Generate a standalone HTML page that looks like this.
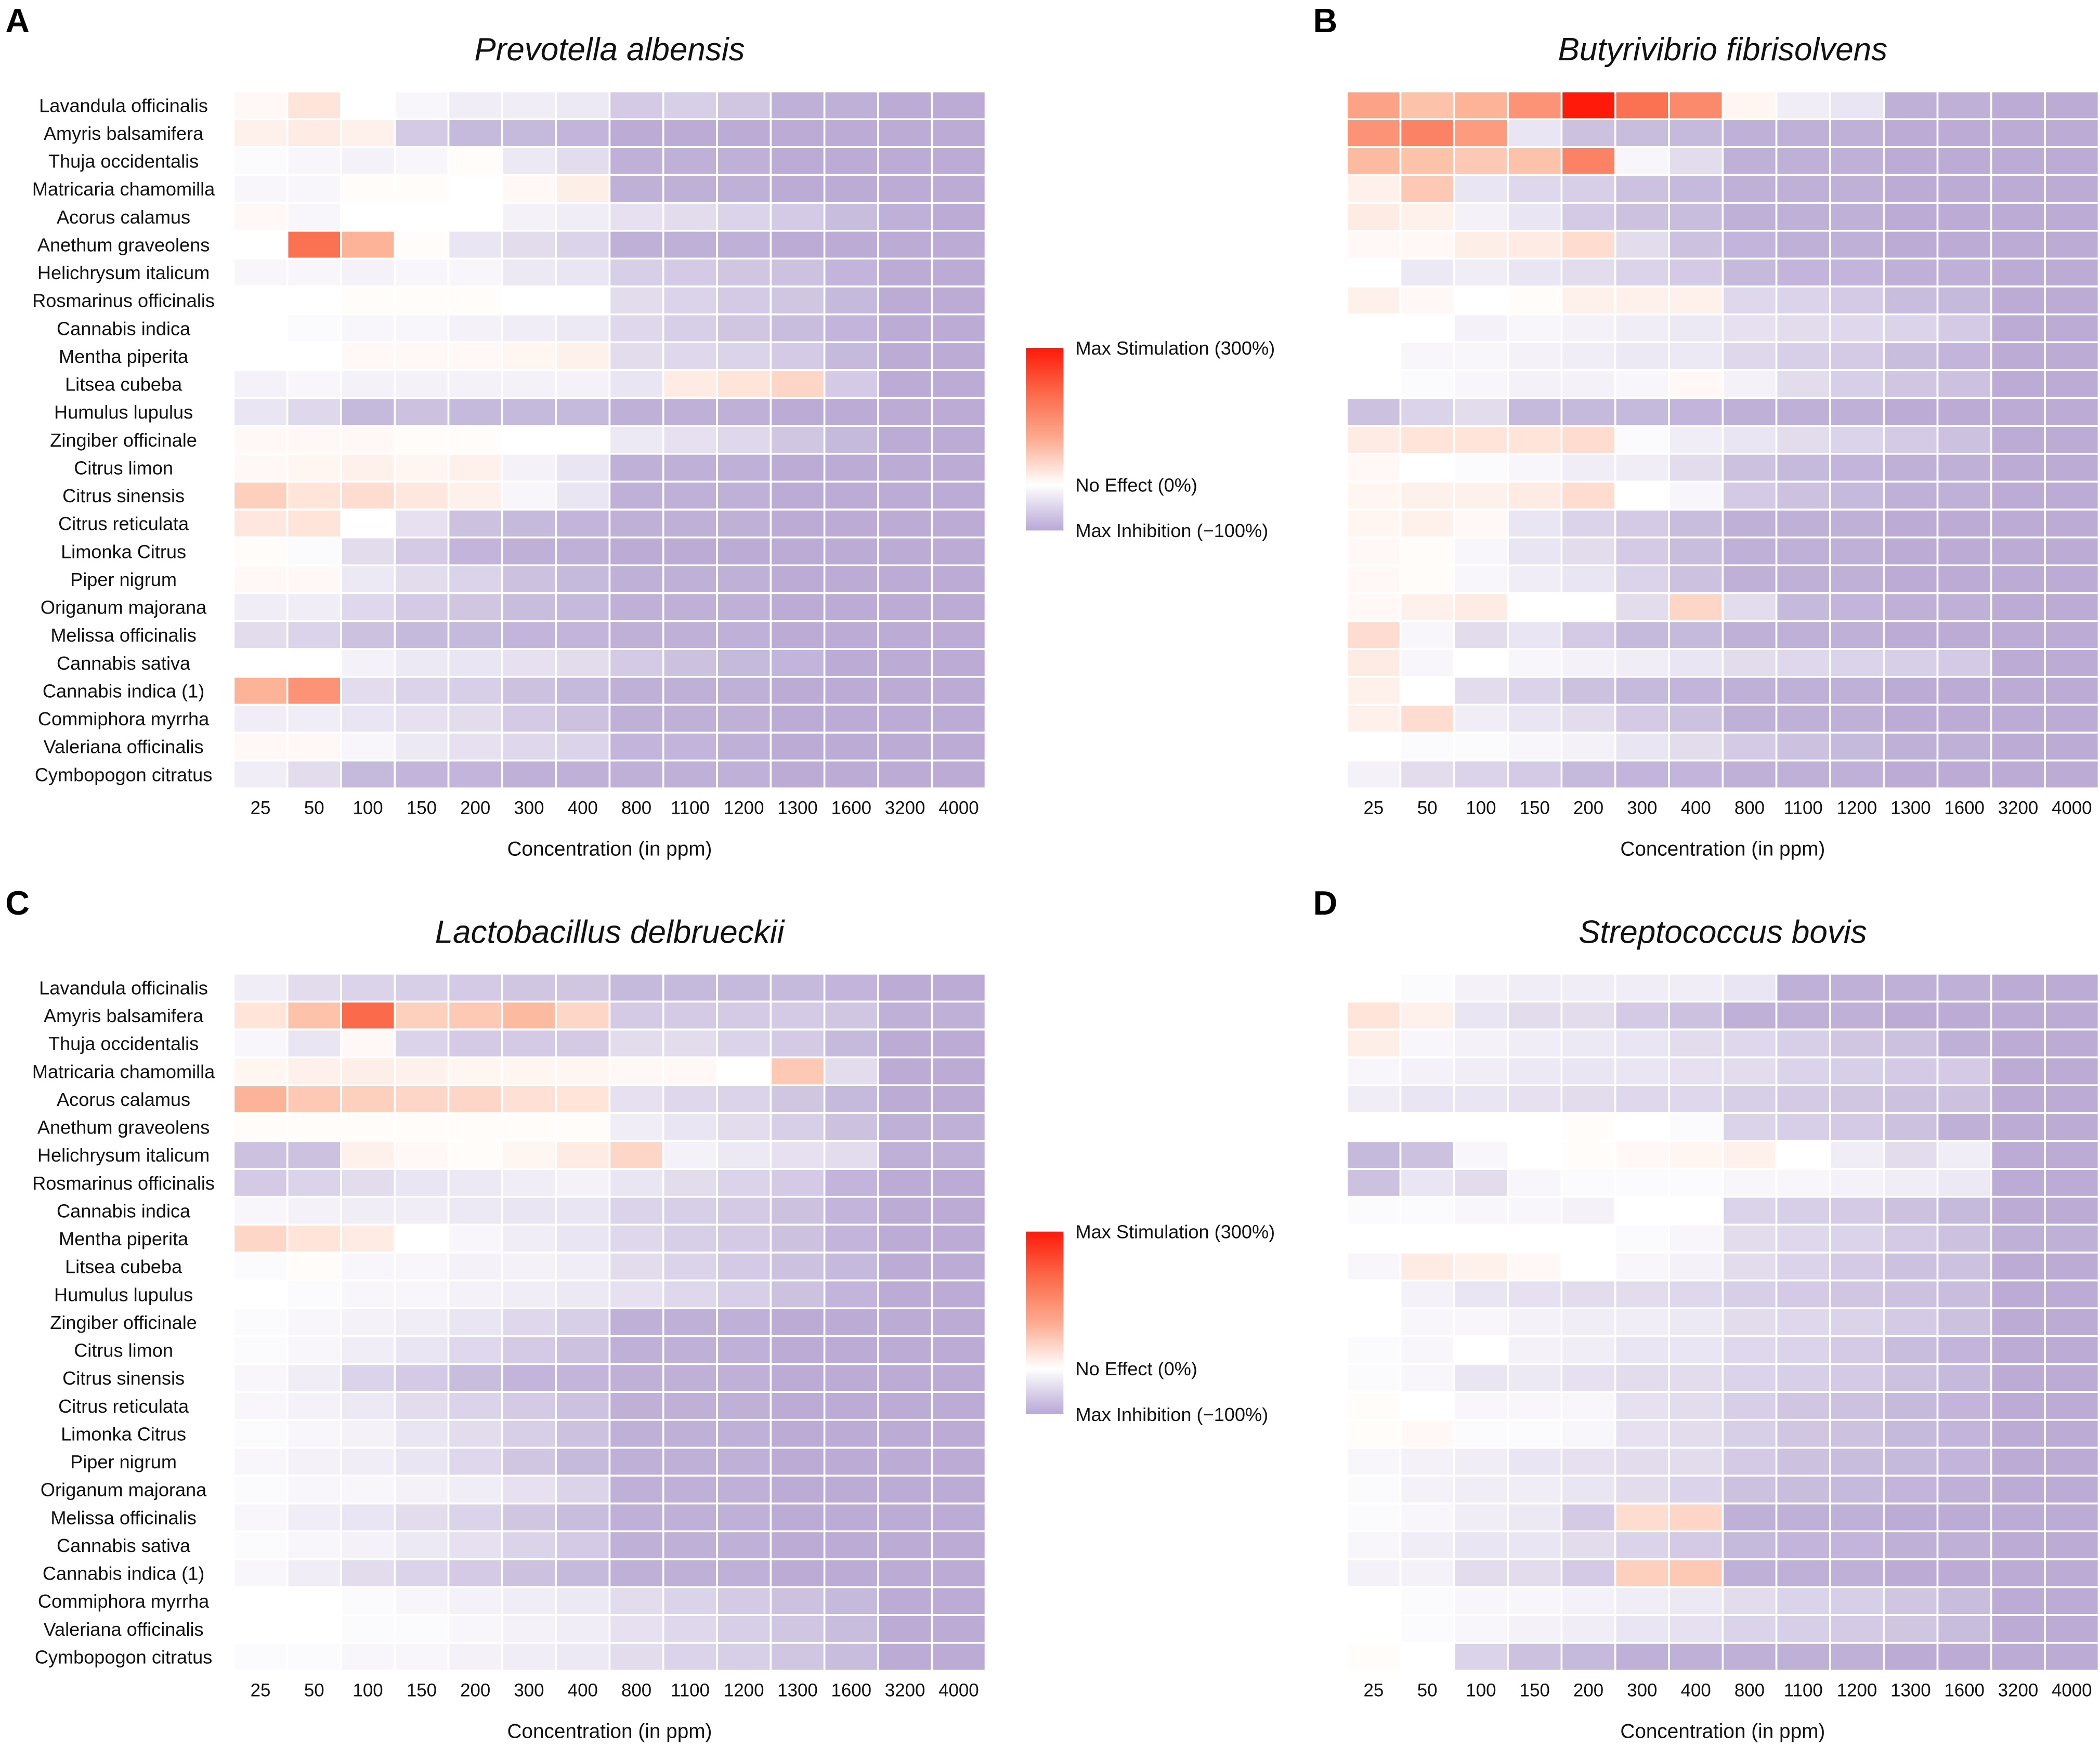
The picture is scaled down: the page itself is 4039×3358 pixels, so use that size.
<!DOCTYPE html>
<html><head><meta charset="utf-8">
<style>
html,body{margin:0;padding:0;background:#fff;}
svg{display:block;font-family:"Liberation Sans",Arial,sans-serif;}
</style></head>
<body>
<svg id="fig" width="4039" height="3358" viewBox="0 0 1564 1300" preserveAspectRatio="none" xmlns="http://www.w3.org/2000/svg">
<defs>
<linearGradient id="lg" x1="0" y1="0" x2="0" y2="1">
<stop offset="0" stop-color="#ff1a0a"/>
<stop offset="0.25" stop-color="#fb6a4a"/>
<stop offset="0.5" stop-color="#fcab91"/>
<stop offset="0.75" stop-color="#ffffff"/>
<stop offset="1" stop-color="#b8a8d6"/>
</linearGradient>
</defs>
</svg>
<script>
const concentrations = ["25","50","100","150","200","300","400","800","1100","1200","1300","1600","3200","4000"];
const oils = ["Lavandula officinalis","Amyris balsamifera","Thuja occidentalis","Matricaria chamomilla","Acorus calamus","Anethum graveolens","Helichrysum italicum","Rosmarinus officinalis","Cannabis indica","Mentha piperita","Litsea cubeba","Humulus lupulus","Zingiber officinale","Citrus limon","Citrus sinensis","Citrus reticulata","Limonka Citrus","Piper nigrum","Origanum majorana","Melissa officinalis","Cannabis sativa","Cannabis indica (1)","Commiphora myrrha","Valeriana officinalis","Cymbopogon citratus"];
const valuesA = [
[10,40,0,-10,-20,-20,-25,-60,-55,-65,-90,-90,-95,-95],
[20,30,20,-60,-80,-80,-85,-95,-95,-95,-95,-95,-95,-95],
[-5,-10,-15,-10,5,-25,-40,-90,-90,-90,-95,-95,-95,-95],
[-10,-10,5,5,0,10,25,-90,-90,-90,-95,-95,-95,-95],
[10,-10,0,0,0,-15,-20,-35,-40,-50,-60,-75,-90,-95],
[0,190,110,5,-30,-40,-50,-90,-90,-90,-95,-95,-95,-95],
[-10,-10,-15,-10,-10,-25,-30,-55,-60,-65,-70,-85,-95,-95],
[0,0,5,5,5,0,0,-40,-50,-60,-65,-80,-95,-95],
[0,-5,-10,-10,-15,-20,-25,-45,-55,-65,-75,-85,-95,-95],
[0,0,10,10,10,15,20,-40,-45,-50,-60,-80,-95,-95],
[-15,-10,-15,-15,-15,-15,-15,-30,30,40,60,-60,-95,-95],
[-30,-45,-80,-70,-80,-80,-80,-90,-90,-90,-95,-95,-95,-95],
[10,10,10,5,5,0,0,-25,-35,-45,-65,-80,-95,-95],
[10,15,20,15,20,-15,-30,-90,-90,-90,-95,-95,-95,-95],
[70,40,50,35,20,-10,-30,-90,-90,-90,-95,-95,-95,-95],
[35,40,0,-35,-70,-80,-85,-90,-90,-90,-95,-95,-95,-95],
[5,-5,-40,-60,-85,-90,-90,-95,-95,-95,-95,-95,-95,-95],
[10,10,-25,-40,-50,-70,-80,-90,-90,-90,-95,-95,-95,-95],
[-20,-20,-45,-60,-65,-75,-80,-90,-90,-90,-95,-95,-95,-95],
[-40,-50,-70,-80,-80,-85,-85,-90,-90,-90,-95,-95,-95,-95],
[0,0,-15,-25,-30,-35,-40,-60,-70,-80,-85,-95,-95,-95],
[110,150,-40,-50,-55,-70,-80,-90,-90,-90,-95,-95,-95,-95],
[-20,-20,-30,-35,-40,-60,-70,-90,-90,-90,-95,-95,-95,-95],
[10,10,-10,-25,-35,-45,-50,-85,-85,-90,-95,-95,-95,-95],
[-20,-40,-80,-85,-85,-90,-90,-90,-90,-90,-95,-95,-95,-95]];
const valuesB = [
[130,90,110,150,300,190,160,15,-20,-30,-90,-90,-95,-95],
[150,170,140,-30,-70,-75,-80,-90,-90,-90,-95,-95,-95,-95],
[100,90,80,90,170,-10,-40,-90,-90,-90,-95,-95,-95,-95],
[20,80,-30,-45,-55,-70,-80,-90,-90,-90,-95,-95,-95,-95],
[30,20,-15,-30,-60,-70,-75,-90,-90,-90,-95,-95,-95,-95],
[10,10,25,30,50,-40,-70,-85,-90,-90,-95,-95,-95,-95],
[0,-25,-20,-30,-40,-50,-60,-80,-85,-85,-90,-90,-95,-95],
[20,10,0,5,20,20,20,-45,-50,-60,-75,-80,-95,-95],
[0,0,-15,-10,-15,-20,-25,-35,-40,-45,-50,-60,-95,-95],
[0,-10,-10,-15,-20,-25,-25,-45,-55,-60,-75,-85,-95,-95],
[0,-5,-10,-15,-15,-10,10,-15,-40,-55,-65,-70,-95,-95],
[-70,-50,-40,-80,-80,-80,-85,-90,-90,-90,-95,-95,-95,-95],
[30,40,40,40,50,-5,-20,-30,-40,-50,-60,-70,-95,-95],
[10,0,-5,-10,-20,-20,-40,-70,-80,-85,-90,-90,-95,-95],
[15,20,20,30,50,0,-10,-60,-70,-80,-90,-90,-95,-95],
[15,20,10,-30,-50,-60,-75,-90,-90,-90,-95,-95,-95,-95],
[10,5,-10,-30,-40,-60,-75,-90,-90,-90,-95,-95,-95,-95],
[10,5,-10,-20,-30,-50,-70,-90,-90,-90,-95,-95,-95,-95],
[10,20,30,0,0,-40,60,-40,-80,-85,-90,-90,-95,-95],
[50,-10,-40,-30,-60,-80,-80,-90,-90,-90,-95,-95,-95,-95],
[30,-10,0,-10,-15,-20,-30,-40,-45,-50,-55,-60,-95,-95],
[20,0,-40,-50,-70,-80,-85,-90,-90,-90,-95,-95,-95,-95],
[20,50,-20,-30,-40,-60,-70,-90,-90,-90,-95,-95,-95,-95],
[0,-5,-5,-10,-15,-30,-40,-60,-70,-80,-90,-90,-95,-95],
[-15,-40,-50,-60,-80,-85,-85,-90,-90,-90,-95,-95,-95,-95]];
const valuesC = [
[-20,-40,-50,-55,-60,-65,-65,-80,-80,-80,-80,-85,-95,-95],
[40,90,200,70,80,100,60,-60,-60,-60,-60,-65,-90,-90],
[-10,-30,10,-50,-60,-60,-60,-40,-40,-50,-60,-80,-95,-95],
[15,20,25,20,15,15,15,10,10,0,80,-40,-95,-95],
[110,80,70,60,60,45,40,-35,-45,-50,-65,-80,-95,-95],
[5,5,5,5,5,5,5,-20,-30,-40,-55,-70,-90,-90],
[-70,-70,20,10,5,15,30,60,-15,-25,-35,-40,-90,-90],
[-60,-50,-40,-30,-25,-20,-15,-30,-40,-50,-60,-85,-95,-95],
[-10,-15,-20,-20,-25,-30,-30,-50,-55,-60,-70,-85,-95,-95],
[60,40,30,0,-10,-20,-30,-45,-55,-60,-70,-85,-95,-95],
[-5,5,-10,-10,-15,-15,-20,-40,-50,-60,-70,-80,-95,-95],
[0,-5,-10,-10,-15,-20,-25,-35,-45,-55,-70,-85,-95,-95],
[-5,-10,-15,-20,-30,-45,-55,-90,-90,-90,-95,-95,-95,-95],
[-5,-10,-20,-30,-45,-60,-70,-90,-90,-90,-95,-95,-95,-95],
[-10,-20,-50,-60,-75,-85,-85,-90,-90,-90,-95,-95,-95,-95],
[-10,-15,-25,-40,-50,-60,-70,-90,-90,-90,-95,-95,-95,-95],
[-5,-10,-15,-30,-40,-55,-70,-90,-90,-90,-95,-95,-95,-95],
[-10,-15,-20,-30,-45,-65,-80,-90,-90,-90,-95,-95,-95,-95],
[-5,-10,-10,-15,-20,-35,-50,-90,-90,-90,-95,-95,-95,-95],
[-10,-20,-30,-40,-50,-65,-75,-90,-90,-90,-95,-95,-95,-95],
[-5,-10,-15,-25,-35,-50,-60,-90,-90,-90,-95,-95,-95,-95],
[-10,-20,-40,-50,-60,-70,-80,-90,-90,-90,-95,-95,-95,-95],
[0,0,-5,-10,-15,-20,-25,-40,-50,-60,-70,-80,-95,-95],
[0,0,-5,-5,-10,-15,-20,-35,-45,-55,-65,-75,-95,-95],
[-5,-5,-10,-10,-15,-20,-25,-40,-50,-55,-65,-75,-95,-95]];
const valuesD = [
[0,-5,-15,-20,-20,-20,-20,-30,-90,-90,-90,-90,-95,-95],
[40,20,-30,-40,-40,-60,-70,-90,-90,-90,-95,-95,-95,-95],
[25,-10,-15,-20,-25,-30,-40,-45,-55,-65,-70,-90,-95,-95],
[-10,-15,-20,-25,-30,-30,-35,-40,-50,-55,-60,-60,-95,-95],
[-20,-30,-30,-35,-40,-45,-45,-55,-60,-65,-70,-70,-95,-95],
[0,0,0,0,5,0,-5,-50,-55,-60,-70,-90,-95,-95],
[-80,-70,-10,0,5,10,15,20,0,-20,-40,-20,-95,-95],
[-70,-30,-40,-10,-5,-5,-5,-10,-10,-15,-20,-25,-95,-95],
[-5,-5,-10,-10,-15,0,0,-50,-55,-60,-70,-80,-95,-95],
[0,0,0,0,0,-5,-10,-40,-45,-50,-60,-70,-90,-90],
[-10,30,20,10,0,-10,-15,-40,-50,-60,-70,-70,-95,-95],
[0,-15,-30,-35,-40,-40,-45,-55,-60,-65,-70,-75,-95,-95],
[0,-10,-10,-15,-20,-20,-25,-40,-45,-50,-60,-70,-95,-95],
[-5,-10,0,-15,-20,-30,-30,-45,-50,-60,-75,-85,-95,-95],
[-5,-10,-30,-25,-35,-40,-40,-50,-55,-60,-70,-80,-95,-95],
[5,0,-10,-10,-10,-35,-40,-55,-65,-70,-80,-85,-95,-95],
[5,10,-5,-5,-10,-35,-40,-55,-65,-70,-80,-85,-95,-95],
[-10,-15,-20,-30,-35,-40,-40,-60,-70,-75,-80,-85,-95,-95],
[-5,-15,-20,-20,-30,-40,-50,-70,-75,-80,-85,-90,-95,-95],
[-5,-10,-20,-25,-60,50,60,-90,-90,-90,-95,-95,-95,-95],
[-10,-20,-30,-30,-40,-50,-60,-80,-85,-85,-90,-90,-95,-95],
[-15,-15,-40,-40,-60,70,80,-90,-90,-90,-95,-95,-95,-95],
[0,-5,-10,-10,-15,-20,-25,-40,-50,-55,-65,-75,-95,-95],
[0,-5,-10,-15,-20,-30,-35,-50,-55,-60,-65,-75,-95,-95],
[5,0,-50,-70,-80,-90,-90,-90,-90,-90,-95,-95,-95,-95]];
const titles = ["Prevotella albensis","Butyrivibrio fibrisolvens","Lactobacillus delbrueckii","Streptococcus bovis"];
const letters = ["A","B","C","D"];

const NS = "http://www.w3.org/2000/svg";
const svg = document.getElementById("fig");
function mk(tag, attrs, parent){const e=document.createElementNS(NS,tag);for(const k in attrs)e.setAttribute(k,attrs[k]);(parent||svg).appendChild(e);return e;}
function lerp(a,b,t){return [0,1,2].map(i=>Math.round(a[i]+(b[i]-a[i])*t));}
function color(v){
  if(v<=0){const t=Math.min(1,-v/100);const c=lerp([255,255,255],[183,167,211],t);return `rgb(${c})`;}
  const stops=[[0,[255,255,255]],[100,[252,187,161]],[200,[251,106,74]],[300,[255,26,10]]];
  v=Math.min(300,v);
  for(let i=1;i<stops.length;i++){if(v<=stops[i][0]){const t=(v-stops[i-1][0])/(stops[i][0]-stops[i-1][0]);return `rgb(${lerp(stops[i-1][1],stops[i][1],t)})`;}}
  return "rgb(255,26,10)";
}
const CW=40, CH=519/25;
function xScale(x0,j){return x0+j*CW;}
function yScale(y0,i){return y0+i*CH;}
const panels=[
 {vals:valuesA,x0:174,y0:68,labels:true,lx:4,ly:24},
 {vals:valuesB,x0:1003,y0:68,labels:false,lx:978,ly:24},
 {vals:valuesC,x0:174,y0:725,labels:true,lx:4,ly:681},
 {vals:valuesD,x0:1003,y0:725,labels:false,lx:978,ly:681}];
panels.forEach((p,pi)=>{
  const g=mk("g",{});
  
  
  const L=mk("text",{x:p.lx,y:p.ly,"font-size":25,"font-weight":"bold",fill:"#000"},g);L.textContent=letters[pi];
  
  
  const T=mk("text",{x:p.x0+280,y:p.y0-23,"font-size":24,"font-style":"italic","text-anchor":"middle",fill:"#111"},g);T.textContent=titles[pi];
  
  
  p.vals.forEach((row,i)=>{
    row.forEach((v,j)=>{
      const r=mk("rect",{x:xScale(p.x0,j),y:yScale(p.y0,i),width:CW,height:CH,fill:color(v),stroke:"#fff","stroke-width":1.4},g);
      
      
    });
    if(p.labels){
      const t=mk("text",{x:92,y:yScale(p.y0,i)+CH/2+5,"font-size":14,"text-anchor":"middle",fill:"#111"},g);t.textContent=oils[i];
      
      
    }
  });
  concentrations.forEach((c,j)=>{
    const t=mk("text",{x:xScale(p.x0,j)+CW/2,y:p.y0+519+19,"font-size":13.5,"text-anchor":"middle",fill:"#111"},g);t.textContent=c;
    
    
  });
  const a=mk("text",{x:p.x0+280,y:p.y0+519+50,"font-size":15,"text-anchor":"middle",fill:"#111"},g);a.textContent="Concentration (in ppm)";
  
  
});
[259,917].forEach((y,k)=>{
  const g=mk("g",{});
  
  
  const r=mk("rect",{x:764,y:y,width:28,height:136,fill:"url(#lg)"},g);
  
  
  [["Max Stimulation (300%)",y+5],["No Effect (0%)",y+107],["Max Inhibition (\u2212100%)",y+141]].forEach(([s,yy])=>{
    const t=mk("text",{x:801,y:yy,"font-size":14,fill:"#111"},g);t.textContent=s;
    
    
  });
});
</script>
</body></html>
